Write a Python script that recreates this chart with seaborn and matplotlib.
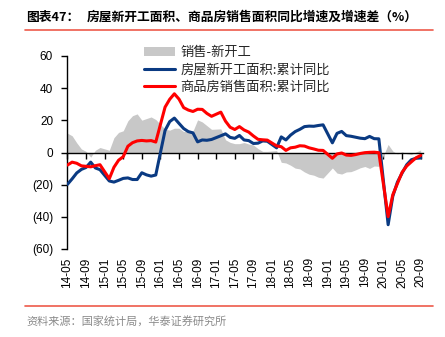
import matplotlib
matplotlib.use('Agg')
import matplotlib.pyplot as plt
import seaborn as sns
import pandas as pd

# ---- data (January is not published separately, so it is absent) ----
months = [str(p) for p in pd.period_range('2014-05', '2020-09', freq='M') if p.month != 1]

new_starts = [
    -19.8, -16.4, -12.7, -10.5, -9.3, -6.0, -9.6, -10.7,                 # 2014
    -17.7, -18.4, -17.3, -16.1, -15.8, -16.8, -16.8, -12.6, -13.9, -14.7, -14.0,  # 2015
    13.7, 19.2, 21.4, 18.1, 14.9, 13.0, 12.2, 6.6, 7.8, 7.6, 8.1,       # 2016
    10.4, 11.6, 9.4, 8.8, 10.6, 7.8, 7.4, 5.6, 5.8, 7.2, 7.0,           # 2017
    2.9, 9.7, 7.8, 10.8, 13.0, 14.4, 16.1, 16.4, 16.3, 16.8, 17.2,      # 2018
    6.0, 11.9, 13.1, 10.5, 10.1, 9.5, 8.9, 8.6, 10.0, 8.6, 8.5,         # 2019
    -44.9, -27.2, -18.4, -12.8, -7.6, -4.5, -3.6, -3.4,                 # 2020
]
sales = [
    -7.8, -6.0, -6.7, -8.3, -8.6, -8.9, -8.2, -7.6,
    -16.3, -9.2, -4.8, -2.6, 3.9, 6.1, 7.2, 7.5, 7.2, 7.4, 6.5,
    28.2, 33.1, 36.5, 33.2, 27.9, 26.4, 25.5, 26.9, 26.8, 24.3, 22.5,
    25.1, 19.5, 15.7, 14.3, 16.1, 14.0, 12.7, 10.3, 8.2, 7.9, 7.7,
    4.1, 3.6, 1.3, 2.9, 3.3, 4.2, 4.0, 2.9, 2.2, 1.4, 1.3,
    -3.6, -0.9, -0.3, -1.6, -1.8, -1.3, -0.6, -0.1, 0.1, 0.2, -0.1,
    -39.9, -26.3, -19.3, -12.3, -8.4, -5.8, -3.3, -1.8,
]
gap = [
    12.0, 10.4, 6.0, 2.2, 0.7, -2.9, 1.4, 3.1,
    1.4, 9.2, 12.5, 13.5, 19.7, 22.9, 24.0, 20.1, 21.1, 22.1, 20.5,
    14.5, 13.9, 15.1, 15.1, 13.0, 13.4, 13.3, 20.3, 19.0, 16.7, 14.4,
    14.7, 7.9, 6.3, 5.5, 5.5, 6.2, 5.3, 4.7, 2.4, 0.7, 0.7,
    1.2, -6.1, -6.5, -7.9, -9.7, -10.2, -12.1, -13.5, -14.1, -15.4, -15.9,
    -9.6, -12.8, -13.4, -12.1, -11.9, -10.8, -9.5, -8.7, -9.9, -8.4, -8.6,
    5.0, 0.9, -0.9, 0.5, -0.8, -1.3, 0.3, 1.6,
]
tick_labels = ['14-05', '14-09', '15-01', '15-05', '15-09', '16-01', '16-05',
               '16-09', '17-01', '17-05', '17-09', '18-01', '18-05', '18-09',
               '19-01', '19-05', '19-09', '20-01', '20-05', '20-09']
y_ticks = [-60, -40, -20, 0, 20, 40, 60]
y_tick_labels = ['(60)', '(40)', '(20)', '0', '20', '40', '60']

title_head = '图表47：'
title_text = '房屋新开工面积、商品房销售面积同比增速及增速差（%）'
source_text = '资料来源：国家统计局，华泰证券研究所'
lab_gap = '销售-新开工'
lab_starts = '房屋新开工面积:累计同比'
lab_sales = '商品房销售面积:累计同比'

# ---- frame ----
per = pd.PeriodIndex(months, freq='M')
df = pd.DataFrame({
    'x': (per.year - 2014) * 12 + (per.month - 5),
    'starts': new_starts, 'sales': sales, 'gap': gap,
})
tick_pos = [(int(t[:2]) - 14) * 12 + int(t[3:]) - 5 for t in tick_labels]

sns.set_theme(style='white')
plt.rcParams['font.family'] = ['Liberation Sans', 'Noto Sans CJK SC', 'DejaVu Sans']
CJK = ['Noto Sans CJK SC', 'DejaVu Sans']

fig = plt.figure(figsize=(4.45, 3.37), dpi=100)
ax = fig.add_axes([67 / 445, 1 - 249 / 337, 356 / 445, 193 / 337])

BLUE = '#0A3A82'
RED = '#FF0000'
GRAY = '#C8C8C8'

ax.fill_between(df['x'], 0, df['gap'], color=GRAY, lw=0, label=lab_gap, zorder=1)
sns.lineplot(data=df, x='x', y='starts', color=BLUE, lw=2.2, ax=ax,
             label=lab_starts, zorder=3)
sns.lineplot(data=df, x='x', y='sales', color=RED, lw=2.2, ax=ax,
             label=lab_sales, zorder=4)

ax.set_xlim(-0.1, 76.5)
ax.set_ylim(-60, 60)
ax.set_xlabel('')
ax.set_ylabel('')

for s in ['top', 'right']:
    ax.spines[s].set_visible(False)
ax.spines['left'].set_color('black')
ax.spines['left'].set_linewidth(1.0)
ax.spines['bottom'].set_position(('data', 0))
ax.spines['bottom'].set_color('black')
ax.spines['bottom'].set_linewidth(1.0)
ax.spines['bottom'].set_zorder(2)

ax.set_yticks(y_ticks)
ax.set_yticklabels(y_tick_labels)
ax.tick_params(axis='y', direction='out', length=4, width=1, color='black',
               pad=6, labelsize=8.5, labelcolor='black', left=True)
ax.set_xticks(tick_pos)
ax.tick_params(axis='x', direction='out', length=4, width=1, color='black',
               labelbottom=False, bottom=True)

sec = ax.secondary_xaxis(0)
sec.set_xticks(tick_pos)
sec.set_xticklabels(tick_labels, rotation=90)
sec.tick_params(length=0, pad=6, labelsize=8.5, labelcolor='black')
sec.spines['bottom'].set_visible(False)

leg = ax.legend(loc='upper left', bbox_to_anchor=(0.215, 1.05), frameon=False,
                prop={'family': CJK, 'size': 9.5}, handlelength=2.4,
                handletextpad=0.4, labelspacing=0.3, borderaxespad=0,
                borderpad=0)

# ---- title, rules, source ----
fig.text(26 / 445, 1 - 17 / 337, title_head, fontsize=9.2, fontweight='bold',
         family=CJK, va='center', ha='left', color='black')
fig.text(87 / 445, 1 - 17 / 337, title_text, fontsize=9.2, fontweight='bold',
         family=CJK, va='center', ha='left', color='black')
RULE = '#EE5A4A'
fig.add_artist(plt.Line2D([25 / 445, 433 / 445], [1 - 29.5 / 337] * 2,
                          color=RULE, lw=1.2))
fig.add_artist(plt.Line2D([25 / 445, 433 / 445], [1 - 306 / 337] * 2,
                          color=RULE, lw=1.2))
fig.text(26 / 445, 1 - 321 / 337, source_text, fontsize=8, family=CJK,
         va='center', ha='left', color='#8A8A8A')

fig.savefig('out.png', dpi=100)
